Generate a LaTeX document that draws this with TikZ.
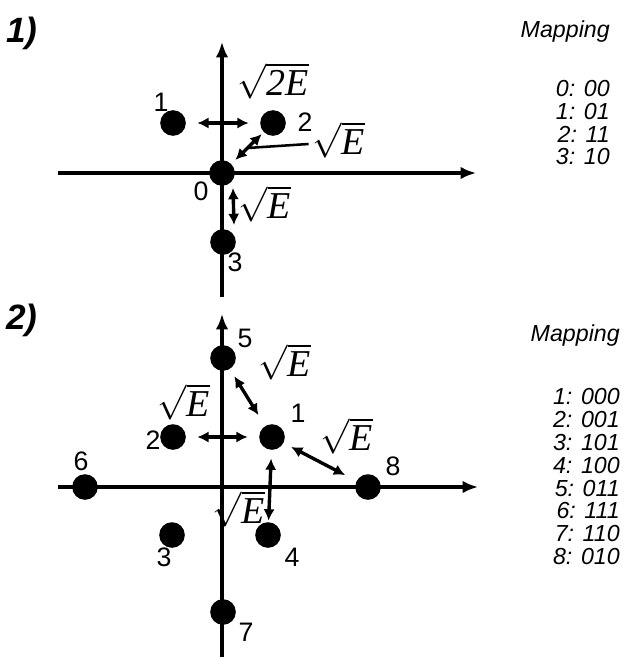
\documentclass[tikz,border=0pt]{standalone}
\usepackage{fontspec}
\setmainfont{Liberation Sans}
\newfontfamily\serifE{Liberation Serif}
\usetikzlibrary{arrows.meta,calc}

\newcommand{\rootE}[1]{$\sqrt{\mbox{\serifE\itshape #1}}$}

\begin{document}
\begin{tikzpicture}[x=0.025cm,y=-0.025cm,
  dot/.style={circle,fill=black,inner sep=0pt,minimum size=0.64cm},
  num/.style={font=\fontsize{19}{19}\selectfont,inner sep=0pt},
  heading/.style={font=\fontsize{25}{25}\selectfont\bfseries\itshape,inner sep=0pt},
  map/.style={font=\fontsize{16.5}{17}\selectfont\itshape,inner sep=0pt,anchor=east},
  sq/.style={font=\fontsize{27}{27}\selectfont,inner sep=0pt},
  axis/.style={line width=2.8pt,-{Latex[length=11pt,width=9pt]}},
  dbl/.style={line width=2.4pt,{Latex[length=8pt,width=8pt]}-{Latex[length=8pt,width=8pt]}}]
\useasboundingbox (0,0) rectangle (624,657);

% 1) four points
\node[heading] (h1) at (22,33) {1)};
\coordinate (x1w) at (58,173);
\coordinate (x1e) at (476,173);
\coordinate (y1s) at (222,297);
\coordinate (y1n) at (222,42);
\draw[axis] (x1w) -- (x1e);
\draw[axis] (y1s) -- (y1n);
\node[dot] (a0) at (222,173) {};
\node[dot] (a1) at (173,123) {};
\node[dot] (a2) at (273,123) {};
\node[dot] (a3) at (223,242) {};
\node[num] (n0) at (201,191) {0};
\node[num] (n1) at (161,102) {1};
\node[num] (n2) at (305,122) {2};
\node[num] (n3) at (235,262) {3};
\draw[dbl,shorten <=8pt,shorten >=8pt] (a1) -- (a2);
\draw[dbl,shorten <=2pt,shorten >=4pt] (a2) -- (a0);
\draw[dbl] ([shift={(11,15)}]a0.center) -- ([shift={(11,-17)}]a3.center);
\node[sq] (sa1) at (273,81) {\rootE{2E}};
\node[sq] (sa2) at (339,140) {\rootE{E}};
\node[sq] (sa3) at (265,204) {\rootE{E}};
\draw[line width=1.8pt] ($(a2)!0.5!(a0)$) -- ($(sa2.west)+(-4,4)$);
\node[map] (m1) at (610,32) {Mapping};
\foreach \t [count=\i] in {0: 00,1: 01,2: 11,3: 10}
  \node[map] (m1-\i) at (610,{66.5+22.5*\i}) {\t};

% 2) eight points
\node[heading] (h2) at (22,320) {2)};
\coordinate (x2w) at (58,487);
\coordinate (x2e) at (478,487);
\coordinate (y2s) at (222,657);
\coordinate (y2n) at (222,314);
\draw[axis] (x2w) -- (x2e);
\draw[axis] (y2s) -- (y2n);
\node[dot] (b1) at (272,437) {};
\node[dot] (b2) at (173,437) {};
\node[dot] (b3) at (172,535) {};
\node[dot] (b4) at (268,535) {};
\node[dot] (b5) at (223,358) {};
\node[dot] (b6) at (85,487) {};
\node[dot] (b7) at (223,612) {};
\node[dot] (b8) at (368,487) {};
\node[num] (k1) at (298,413) {1};
\node[num] (k2) at (153,440) {2};
\node[num] (k3) at (164,557) {3};
\node[num] (k4) at (292,557) {4};
\node[num] (k5) at (245,338) {5};
\node[num] (k6) at (81,461) {6};
\node[num] (k7) at (246,632) {7};
\node[num] (k8) at (393,466) {8};
\draw[dbl,shorten <=8pt,shorten >=8pt] (b2) -- (b1);
\draw[dbl,shorten <=6pt,shorten >=9pt] (b5) -- (b1);
\draw[dbl,shorten <=6pt,shorten >=9pt] (b1) -- (b8);
\draw[dbl,shorten <=6pt,shorten >=1pt] (b1) -- (b4);
\node[sq] (sb1) at (285,362) {\rootE{E}};
\node[sq] (sb2) at (184,402) {\rootE{E}};
\node[sq] (sb3) at (347,436) {\rootE{E}};
\node[sq] (sb4) at (239,509) {\rootE{E}};
\node[map] (m2) at (620,335) {Mapping};
\foreach \t [count=\i] in {1: 000,2: 001,3: 101,4: 100,5: 011,6: 111,7: 110,8: 010}
  \node[map] (m2-\i) at (620,{374.2+22.8*\i}) {\t};
\end{tikzpicture}
\end{document}
